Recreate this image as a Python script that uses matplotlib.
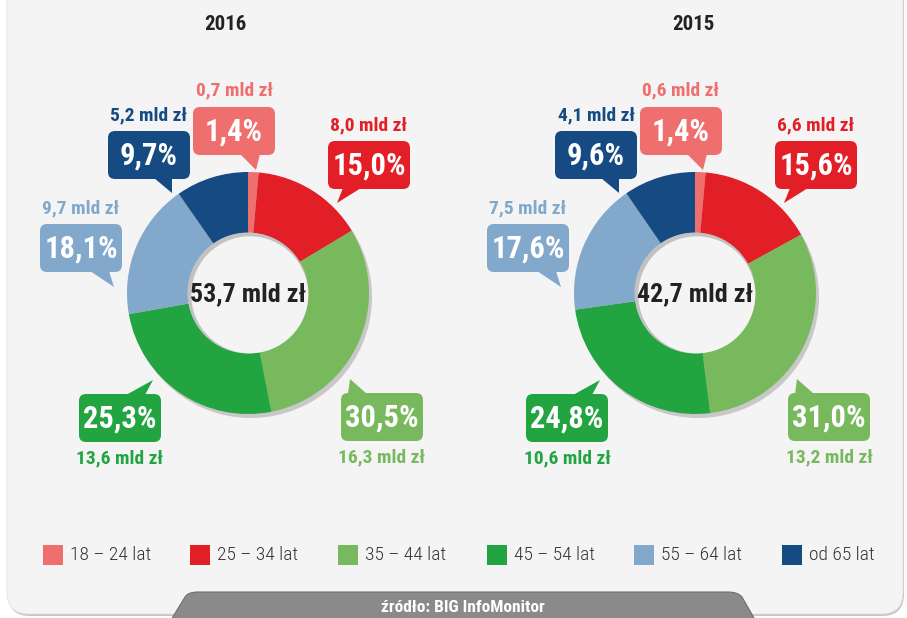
import matplotlib
matplotlib.use('Agg')
import matplotlib.pyplot as plt
from matplotlib.patches import FancyBboxPatch, Polygon, Circle, Rectangle, PathPatch
from matplotlib.path import Path
from matplotlib import font_manager as fm

# ---------------- data ----------------
years = ['2016', '2015']
categories = ['18 – 24 lat', '25 – 34 lat', '35 – 44 lat', '45 – 54 lat', '55 – 64 lat', 'od 65 lat']
share_2016 = [1.4, 15.0, 30.5, 25.3, 18.1, 9.7]
share_2015 = [1.4, 15.6, 31.0, 24.8, 17.6, 9.6]
amount_2016 = [0.7, 8.0, 16.3, 13.6, 9.7, 5.2]
amount_2015 = [0.6, 6.6, 13.2, 10.6, 7.5, 4.1]
total_2016 = 53.7
total_2015 = 42.7
source_text = 'źródło: BIG InfoMonitor'

colors = ['#ef6f6e', '#e21f26', '#78b95e', '#22a440', '#82a8cb', '#154a82']

# ---------------- fonts: prefer a condensed family ----------------
cond_stretch = ('condensed', 'semi-condensed', 'extra-condensed', 'ultra-condensed', 500, 300, 200, 100)
pref = ['Liberation Sans Narrow', 'Roboto Condensed', 'Noto Sans Condensed', 'Open Sans Condensed',
        'DejaVu Sans Condensed', 'Noto Sans', 'DejaVu Sans', 'Roboto', 'Open Sans']
found = None
for want in pref:
    for f in fm.fontManager.ttflist:
        if 'CJK' in f.name:
            continue
        is_cond = ('Narrow' in f.name or 'Condensed' in f.name or f.stretch in cond_stretch)
        if f.name == want and is_cond:
            found = (f.name, f.stretch if f.stretch in cond_stretch else 'normal')
            break
    if found:
        break
if found is None:
    FAM = ['Roboto', 'DejaVu Sans']
    STRETCH = 'normal'
else:
    FAM = [found[0], 'DejaVu Sans']
    STRETCH = found[1]

W, H = 907, 618
fig = plt.figure(figsize=(W / 100, H / 100), dpi=100)
fig.patch.set_facecolor('white')
ax = fig.add_axes([0, 0, 1, 1])
ax.set_xlim(0, W)
ax.set_ylim(0, H)
renderer = fig.canvas.get_renderer()


def P(x, y):
    return (x, H - y)


def fmt(v):
    return f'{v:.1f}'.replace('.', ',')


def fit_text(x, y, s, size, maxw, **kw):
    t = ax.text(*P(x, y), s, fontsize=size, family=FAM, fontstretch=STRETCH, **kw)
    w = t.get_window_extent(renderer).width
    if w > maxw:
        t.set_fontsize(size * maxw / w)
    return t


# ---------------- background panel ----------------
shadow = FancyBboxPatch(P(8, 616), 896, 660, boxstyle='round,pad=0,rounding_size=22',
                        facecolor='#c4c4c4', edgecolor='none', zorder=0)
ax.add_patch(shadow)
panel = FancyBboxPatch(P(7, 614), 896, 660, boxstyle='round,pad=0,rounding_size=22',
                       facecolor='#f4f4f4', edgecolor='#e2e2e2', linewidth=0.6, zorder=0.5)
ax.add_patch(panel)

# ---------------- donuts ----------------
centers = [(248, 293), (695, 293)]
R_OUT, R_IN = 121, 60
shares = [share_2016, share_2015]
amounts = [amount_2016, amount_2015]
totals = [total_2016, total_2015]

box_off = [(-14, -162), (121, -128), (134, 124), (-128, 125), (-167, -45), (-99, -138)]
pointers = [
    [(6, 23), (26, 23), (22, 39)],
    [(-26, 23), (-8, 23), (-32, 38)],
    [(-34, -23), (-15, -23), (-32, -38)],
    [(6, -23), (25, -23), (33, -38)],
    [(9, 23), (28, 23), (33, 39)],
    [(5, 23), (23, 23), (23, 38)],
]
label_dy = [-41, -40, 40, 40, -40, -40]
BW, BH = 82, 48

for k in range(2):
    cx, cy = centers[k]
    ax.add_patch(Circle(P(cx + 3, cy + 4), R_OUT, facecolor='#c8c8c8', edgecolor='none', zorder=1))
    wedges, _ = ax.pie(shares[k], radius=R_OUT, center=P(cx, cy), startangle=90,
                       counterclock=False, colors=colors,
                       wedgeprops=dict(width=R_OUT - R_IN, edgecolor='none', linewidth=0))
    for w in wedges:
        w.set_zorder(2)
    ax.add_patch(Circle(P(cx, cy), R_IN + 0.5, facecolor='#c2c2c2', edgecolor='none', zorder=3))
    ax.add_patch(Circle(P(cx + 1.8, cy + 1.8), R_IN - 1.5, facecolor='#f4f4f4', edgecolor='none', zorder=3.1))
    fit_text(cx, cy + 1, f'{fmt(totals[k])} mld zł', 20, 116, ha='center', va='center',
             fontweight='bold', color='#222222', zorder=5)
    fit_text(cx - 23 if k == 0 else cx - 2, 25, years[k], 15, 50, ha='center', va='center',
             fontweight='bold', color='#222222', zorder=5)
    for i in range(len(categories)):
        bx, by = cx + box_off[i][0], cy + box_off[i][1]
        box = FancyBboxPatch(P(bx - BW / 2 + 5, by + BH / 2 - 5), BW - 10, BH - 10,
                             boxstyle='round,pad=5,rounding_size=7',
                             facecolor=colors[i], edgecolor='none', zorder=6)
        ax.add_patch(box)
        tri = Polygon([P(bx + dx, by + dy) for dx, dy in pointers[i]], closed=True,
                      facecolor=colors[i], edgecolor='none', zorder=6)
        ax.add_patch(tri)
        s = f'{fmt(shares[k][i])}%'
        fit_text(bx, by + 1, s, 22, 77 if len(s) > 4 else 64, ha='center', va='center',
                 fontweight='bold', color='white', zorder=7)
        fit_text(bx, by + label_dy[i], f'{fmt(amounts[k][i])} mld zł', 14,
                 91 if amounts[k][i] >= 10 else 81, ha='center', va='center',
                 fontweight='bold', color=colors[i], zorder=7)

# ---------------- legend ----------------
leg_x = [43, 190, 338, 487, 634, 782]
for i, cat in enumerate(categories):
    ax.add_patch(Rectangle(P(leg_x[i], 565), 20, 20, facecolor=colors[i], edgecolor='none', zorder=5))
    fit_text(leg_x[i] + 27, 555, cat, 14, 91 if i < 5 else 74, ha='left', va='center',
             fontweight='light', color='#333333', zorder=5)

# ---------------- source tab ----------------
verts = [P(168, 625), P(185, 597), P(188, 592), P(198, 592), P(728, 592), P(738, 592),
         P(742, 597), P(758, 625), P(168, 625)]
codes = [Path.MOVETO, Path.LINETO, Path.CURVE3, Path.CURVE3, Path.LINETO, Path.CURVE3,
         Path.CURVE3, Path.LINETO, Path.CLOSEPOLY]
ax.add_patch(PathPatch(Path(verts, codes), facecolor='#8a8a8a', edgecolor='#6e6e6e',
                       linewidth=0.8, zorder=4))
fit_text(463, 607, source_text, 12.5, 172, ha='center', va='center',
         fontweight='bold', color='white', zorder=5)

ax.set_xlim(0, W)
ax.set_ylim(0, H)
ax.set_aspect('equal')
ax.set_axis_off()

fig.savefig('out.png', dpi=100, facecolor=fig.get_facecolor())
